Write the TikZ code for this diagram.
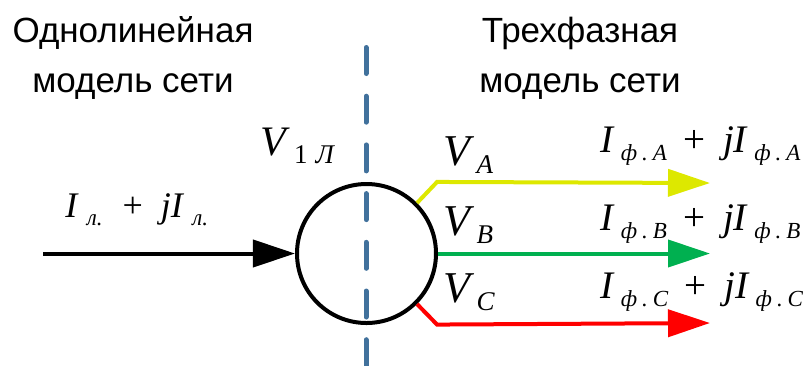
\documentclass[tikz,border=0pt]{standalone}
\usepackage{fontspec}
\setmainfont{Liberation Sans}
\newfontfamily\tms{Liberation Serif}
\usetikzlibrary{arrows.meta, positioning}

\definecolor{phaseA}{RGB}{221,232,0}
\definecolor{phaseB}{RGB}{0,176,80}
\definecolor{phaseC}{RGB}{255,0,0}
\definecolor{divider}{RGB}{65,113,156}

% current label: I_{sub} + jI_{sub}
\newcommand{\cursub}[1]{\raisebox{-4bp}{\fontsize{11.5bp}{12bp}\selectfont\itshape #1}}
\newcommand{\curlbl}[1]{\textit{I}\kern3bp\cursub{ф\hspace{2.5bp}.\hspace{2.5bp}#1}\hspace{8bp}+\hspace{9bp}\textit{jI}\kern3bp\cursub{ф\hspace{2.5bp}.\hspace{2.5bp}#1}}
\newcommand{\vsub}[1]{\raisebox{-4bp}{\fontsize{13.5bp}{14bp}\selectfont #1}}

\begin{document}
\begin{tikzpicture}[x=0.5bp, y=-0.5bp, >=Triangle,
  title/.style={font=\fontsize{17.5bp}{25bp}\selectfont, align=center, anchor=base, inner sep=0},
  sym/.style={font=\tms\fontsize{22bp}{23bp}\selectfont, anchor=base west, inner sep=0},
  cur/.style={font=\tms\fontsize{19.5bp}{20bp}\selectfont, anchor=base west, inner sep=0},
  wire/.style={line width=2bp, -{Triangle[length=21bp, width=13.5bp]}}]
  \useasboundingbox (0,0) rectangle (810,365);

  % titles
  \node[title] (single) at (133,92) {Однолинейная\\модель сети};
  \node[title] (three) at (580,92) {Трехфазная\\модель сети};

  % divider
  \coordinate (divtop) at (366,47.5);
  \coordinate (divbot) at (366,380);
  \draw[divider, line width=2.5bp, line cap=round, dash pattern=on 13bp off 11.35bp] (divtop) -- (divbot);

  % bus
  \node[circle, draw, line width=2bp, minimum size=69.5bp, inner sep=0] (bus) at (366.5,253.5) {};

  % single line feed
  \coordinate (src) at (43,253.5);
  \draw[wire] (src) -- (bus.west);
  \node[cur, font=\tms\fontsize{18bp}{18bp}\selectfont] (iline) at (65,217) {\textit{I}\kern4bp\cursub{л.}\hspace{10bp}+\hspace{9bp}\textit{jI}\kern4bp\cursub{л.}};
  \node[sym, font=\tms\fontsize{21bp}{22bp}\selectfont] (vbus) at (260,155) {\textit{V}\kern2bp\vsub{1\hspace{4bp}\textit{Л}}};

  % phases
  \coordinate (endA) at (710,183);
  \coordinate (endB) at (710,253.5);
  \coordinate (endC) at (710,323);
  \draw[wire, phaseA] (bus.45) -- ++(20,-21) -- (endA);
  \draw[wire, phaseB] (bus.east) -- (endB);
  \draw[wire, phaseC] (bus.-45) -- ++(20,20.5) -- (endC);

  \node[sym] (va) at (443,165) {\textit{V}\kern1bp\vsub{\textit{A}}};
  \node[sym] (vb) at (443,235) {\textit{V}\kern1bp\vsub{\textit{B}}};
  \node[sym] (vc) at (443,302) {\textit{V}\kern1bp\vsub{\textit{C}}};

  \node[cur] (ia) at (600,152) {\curlbl{A}};
  \node[cur] (ib) at (600,230) {\curlbl{B}};
  \node[cur] (ic) at (600,298) {\curlbl{C}};
\end{tikzpicture}
\end{document}
